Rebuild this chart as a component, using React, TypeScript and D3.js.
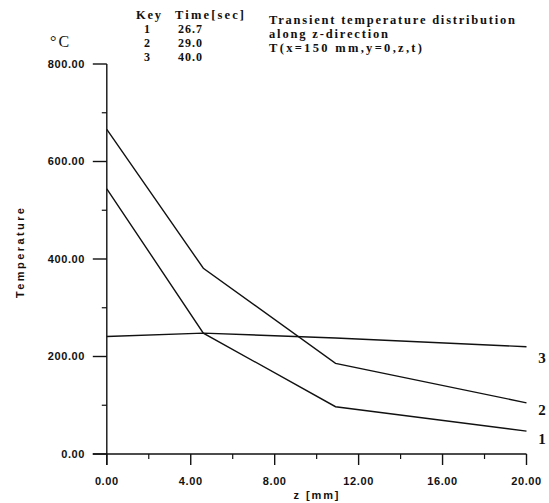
import React from "react";
import * as d3 from "d3";

const zPositions = [0, 4.6, 10.9, 20];
const series1 = [544, 248, 97, 47]; // key 1, 26.7 s
const series2 = [666, 381, 186, 105]; // key 2, 29.0 s
const series3 = [241, 248, 238, 220]; // key 3, 40.0 s
const seriesKeys = ["1", "2", "3"];
const keyTimes = ["26.7", "29.0", "40.0"];
const xMajorTicks = [0, 4, 8, 12, 16, 20];
const xMinorTicks = [2, 6, 10, 14, 18];
const yMajorTicks = [0, 200, 400, 600, 800];
const yMinorTicks = [100, 300, 500, 700];
const titleLines = [
  "Transient temperature distribution",
  "along z-direction",
  "T(x=150 mm,y=0,z,t)",
];

const SANS = "'Liberation Sans', Arial, Helvetica, sans-serif";
const SERIF = "'Liberation Serif', 'Times New Roman', serif";

export default function App() {
  const x = d3.scaleLinear().domain([0, 20]).range([106.8, 526.5]);
  const y = d3.scaleLinear().domain([0, 800]).range([454, 64]);
  const line = d3
    .line<[number, number]>()
    .x((d) => x(d[0]))
    .y((d) => y(d[1]));
  const all = [series1, series2, series3];
  const labelOffsets = [8, 7, 11];

  return (
    <svg
      width={549}
      height={503}
      style={{ position: "absolute", left: 0, top: 0, background: "#fff" }}
    >
      <rect width={549} height={503} fill="#fff" />
      {/* axes */}
      <line x1={x(0)} x2={x(0)} y1={y(800)} y2={y(0) + 11} stroke="#111" strokeWidth={1.4} />
      <line x1={x(0) - 14} x2={x(20)} y1={y(0)} y2={y(0)} stroke="#111" strokeWidth={1.4} />
      {yMajorTicks.map((t) => (
        <g key={"ym" + t}>
          <line x1={x(0) - 14} x2={x(0)} y1={y(t)} y2={y(t)} stroke="#111" strokeWidth={1.4} />
          <text
            x={85}
            y={y(t)}
            dy="0.35em"
            textAnchor="end"
            fontFamily={SANS}
            fontWeight="bold"
            fontSize={11}
            letterSpacing={0.6}
            fill="#111"
          >
            {t.toFixed(2)}
          </text>
        </g>
      ))}
      {yMinorTicks.map((t) => (
        <line key={"yn" + t} x1={x(0) - 5} x2={x(0)} y1={y(t)} y2={y(t)} stroke="#111" strokeWidth={1.2} />
      ))}
      {xMajorTicks.map((t) => (
        <g key={"xm" + t}>
          <line x1={x(t)} x2={x(t)} y1={y(0)} y2={y(0) + 11} stroke="#111" strokeWidth={1.4} />
          <text
            x={x(t)}
            y={485}
            textAnchor="middle"
            fontFamily={SANS}
            fontWeight="bold"
            fontSize={11}
            letterSpacing={0.6}
            fill="#111"
          >
            {t.toFixed(2)}
          </text>
        </g>
      ))}
      {xMinorTicks.map((t) => (
        <line key={"xn" + t} x1={x(t)} x2={x(t)} y1={y(0)} y2={y(0) + 5} stroke="#111" strokeWidth={1.2} />
      ))}
      <text
        x={316}
        y={499}
        textAnchor="middle"
        fontFamily={SANS}
        fontWeight="bold"
        fontSize={11}
        textLength={45}
        lengthAdjust="spacing"
        fill="#111"
      >
        z [mm]
      </text>
      <text
        transform="translate(24,253) rotate(-90)"
        textAnchor="middle"
        fontFamily={SANS}
        fontWeight="bold"
        fontSize={11}
        textLength={90}
        lengthAdjust="spacing"
        fill="#111"
      >
        Temperature
      </text>
      {/* unit */}
      <text x={50} y={47} fontFamily={SERIF} fontSize={16} letterSpacing={2} fill="#111">
        °C
      </text>
      {/* series lines */}
      {all.map((s, i) => (
        <path
          key={"s" + i}
          d={line(zPositions.map((z, j) => [z, s[j]] as [number, number])) || ""}
          fill="none"
          stroke="#111"
          strokeWidth={1.4}
        />
      ))}
      {all.map((s, i) => (
        <text
          key={"l" + i}
          x={542}
          y={y(s[s.length - 1]) + labelOffsets[i]}
          dy="0.35em"
          textAnchor="middle"
          fontFamily={SERIF}
          fontWeight="bold"
          fontSize={15}
          fill="#111"
        >
          {seriesKeys[i]}
        </text>
      ))}
      {/* key */}
      <text x={136} y={18.5} fontFamily={SERIF} fontWeight="bold" fontSize={12.5} textLength={25} lengthAdjust="spacing" fill="#111">
        Key
      </text>
      <text x={175} y={18.5} fontFamily={SERIF} fontWeight="bold" fontSize={12.5} textLength={69} lengthAdjust="spacing" fill="#111">
        Time[sec]
      </text>
      {seriesKeys.map((k, i) => (
        <g key={"k" + i}>
          <text x={147} y={32.5 + i * 14} textAnchor="middle" fontFamily={SERIF} fontWeight="bold" fontSize={12} fill="#111">
            {k}
          </text>
          <text x={178} y={32.5 + i * 14} fontFamily={SERIF} fontWeight="bold" fontSize={12} letterSpacing={1} fill="#111">
            {keyTimes[i]}
          </text>
        </g>
      ))}
      {/* title */}
      {titleLines.map((t, i) => (
        <text
          key={"t" + i}
          x={269}
          y={24 + i * 14}
          fontFamily={SERIF}
          fontWeight="bold"
          fontSize={12.5}
          textLength={[246, 119, 153][i]}
          lengthAdjust="spacing"
          fill="#111"
        >
          {t}
        </text>
      ))}
    </svg>
  );
}
